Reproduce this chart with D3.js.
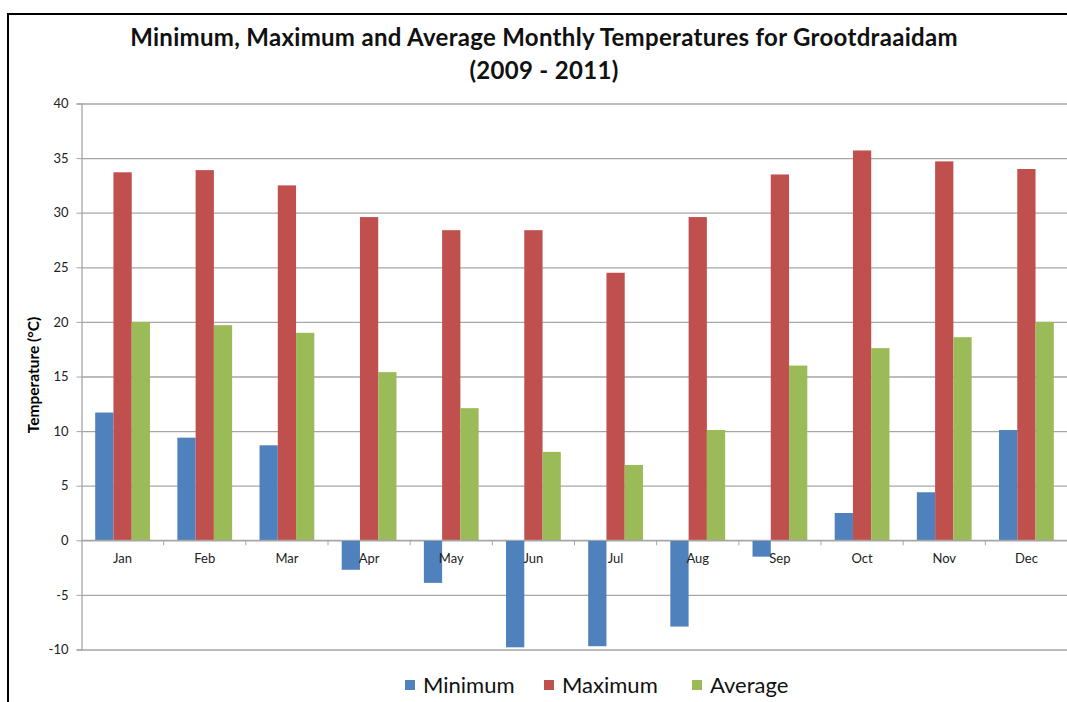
<!DOCTYPE html>
<html>
<head>
<meta charset="utf-8">
<script src="https://cdn.jsdelivr.net/npm/d3@7"></script>
<style>
  body { margin: 0; background: #fff; }
  svg { display: block; font-family: Lato, "Open Sans", sans-serif; }
</style>
</head>
<body>
<div id="chart"></div>
<script>
// monthly temperatures (deg C)
var months = ["Jan", "Feb", "Mar", "Apr", "May", "Jun", "Jul", "Aug", "Sep", "Oct", "Nov", "Dec"];
var seriesNames = ["Minimum", "Maximum", "Average"];
var minimum = [11.7, 9.4, 8.7, -2.7, -3.9, -9.8, -9.7, -7.9, -1.5, 2.5, 4.4, 10.1];
var maximum = [33.7, 33.9, 32.5, 29.6, 28.4, 28.4, 24.5, 29.6, 33.5, 35.7, 34.7, 34.0];
var average = [20.0, 19.7, 19.0, 15.4, 12.1, 8.1, 6.9, 10.1, 16.0, 17.6, 18.6, 20.0];
var yTicks = [-10, -5, 0, 5, 10, 15, 20, 25, 30, 35, 40];

var W = 1067, H = 702;
var colors = { Minimum: "#4F81BD", Maximum: "#C0504D", Average: "#9BBB59" };
var values = { Minimum: minimum, Maximum: maximum, Average: average };

var plot = { left: 81.5, right: 1067.5, top: 103.5, bottom: 649.5 };

var svg = d3.select("#chart").append("svg")
  .attr("width", W)
  .attr("height", H);

// outer frame (only top and left edges are visible in the picture)
svg.append("path")
  .attr("d", "M8," + H + "V14H" + W)
  .attr("fill", "none")
  .attr("stroke", "#000")
  .attr("stroke-width", 2);

// scales
var y = d3.scaleLinear().domain([-10, 40]).range([plot.bottom, plot.top]);
var x0 = d3.scaleBand().domain(months).range([plot.left, plot.right]);
var x1 = d3.scaleBand().domain(seriesNames).range([0, x0.bandwidth()])
  .paddingInner(0).paddingOuter(0.75);

// gridlines
svg.append("g")
  .attr("transform", "translate(" + plot.left + ",0)")
  .call(d3.axisLeft(y).tickValues(yTicks).tickSize(-(plot.right - plot.left)).tickFormat(""))
  .call(function (g) { g.select(".domain").remove(); })
  .selectAll("line")
  .attr("stroke", "#A6A6A6")
  .attr("stroke-width", 1.3);

// y axis
var yAxis = svg.append("g")
  .attr("transform", "translate(" + plot.left + ",0)")
  .call(d3.axisLeft(y).tickValues(yTicks).tickSize(5).tickPadding(8)
    .tickFormat(function (d) { return String(d); }));
yAxis.select(".domain").attr("stroke", "#A6A6A6").attr("stroke-width", 1.3);
yAxis.selectAll(".tick line").attr("stroke", "#A6A6A6");
yAxis.selectAll("text")
  .attr("fill", "#222")
  .style("font-size", "13px")
  .style("font-family", "Lato, sans-serif");

// bars
var rows = months.map(function (m, i) {
  return { month: m, vals: seriesNames.map(function (s) { return { key: s, value: values[s][i] }; }) };
});

svg.append("g").selectAll("g")
  .data(rows)
  .enter().append("g")
  .attr("transform", function (d) { return "translate(" + x0(d.month) + ",0)"; })
  .selectAll("rect")
  .data(function (d) { return d.vals; })
  .enter().append("rect")
  .attr("x", function (d) { return x1(d.key); })
  .attr("width", x1.bandwidth())
  .attr("y", function (d) { return y(Math.max(0, d.value)); })
  .attr("height", function (d) { return Math.abs(y(d.value) - y(0)); })
  .attr("fill", function (d) { return colors[d.key]; });

// x axis along zero
var xg = svg.append("g").attr("transform", "translate(0," + y(0) + ")");
xg.append("line")
  .attr("x1", plot.left).attr("x2", plot.right)
  .attr("stroke", "#A6A6A6").attr("stroke-width", 1.3);
xg.selectAll(".tk")
  .data(months.slice(1))
  .enter().append("line")
  .attr("x1", function (d) { return x0(d); })
  .attr("x2", function (d) { return x0(d); })
  .attr("y1", 0).attr("y2", 5)
  .attr("stroke", "#A6A6A6");
xg.selectAll(".lbl")
  .data(months)
  .enter().append("text")
  .attr("x", function (d) { return x0(d) + x0.bandwidth() / 2; })
  .attr("y", 23)
  .attr("text-anchor", "middle")
  .attr("fill", "#222")
  .style("font-size", "13px")
  .text(function (d) { return d; });

// y axis title
svg.append("text")
  .attr("transform", "translate(39,375) rotate(-90)")
  .attr("text-anchor", "middle")
  .style("font-size", "15.5px")
  .style("font-weight", "bold")
  .text("Temperature (°C)");

// chart title
var title = svg.append("text")
  .attr("text-anchor", "middle")
  .style("font-size", "24px")
  .style("font-weight", "bold")
  .style("letter-spacing", "0.3px")
  .attr("fill", "#111");
title.append("tspan").attr("x", 544).attr("y", 46)
  .text("Minimum, Maximum and Average Monthly Temperatures for Grootdraaidam");
title.append("tspan").attr("x", 544).attr("y", 79)
  .text("(2009 - 2011)");

// legend
var legendX = [405, 544, 692];
var legend = svg.append("g").selectAll("g")
  .data(seriesNames)
  .enter().append("g")
  .attr("transform", function (d, i) { return "translate(" + legendX[i] + ",685)"; });
legend.append("rect")
  .attr("x", 0).attr("y", -5)
  .attr("width", 10).attr("height", 10)
  .attr("fill", function (d) { return colors[d]; });
legend.append("text")
  .attr("x", 18)
  .attr("dy", "0.36em")
  .style("font-size", "22px")
  .attr("fill", "#111")
  .text(function (d) { return d; });
</script>
</body>
</html>
